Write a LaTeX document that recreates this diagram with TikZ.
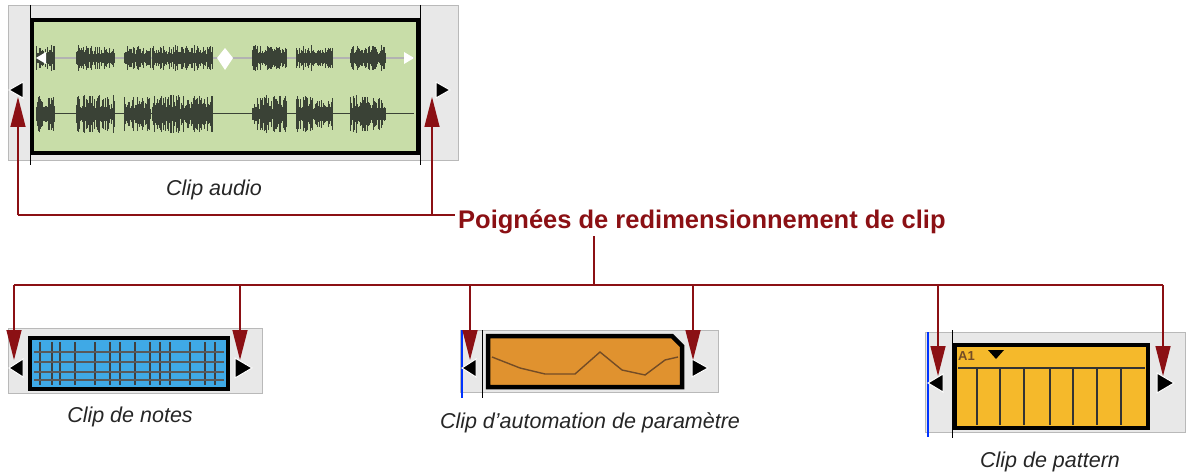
\documentclass[tikz,border=0pt]{standalone}
\usepackage{fontspec}
\setmainfont{Liberation Sans}
\usetikzlibrary{arrows.meta}
\definecolor{dred}{HTML}{8B1014}
\definecolor{wave}{HTML}{3A4236}
\definecolor{aud}{HTML}{C8DDA8}
\definecolor{nblue}{HTML}{3FA9E6}
\definecolor{oran}{HTML}{E0922F}
\definecolor{yell}{HTML}{F5B92B}
\tikzset{
 strip/.style={fill=gray!18,draw=gray!55,line width=0.8pt},
 clipbox/.style={draw=black,line width=4.5pt},
 conn/.style={draw=dred,line width=1.4pt},
 arr/.style={conn,-{Triangle[length=30pt,width=15pt]}},
 handle/.style={fill=black,draw=white,line width=1pt},
 lab/.style={font=\itshape\fontsize{21.5}{23}\selectfont,inner sep=0pt,text=black!85},
}
\begin{document}
\begin{tikzpicture}[x=1pt,y=-1pt]
\useasboundingbox (0,0) rectangle (1189,476);
\pgfmathsetseed{7}
% ---------- audio clip
\draw[strip] (8,5) rectangle (458,160);
\draw[black,line width=1pt] (30,5)--(30,165) (420,5)--(420,165);
\draw[clipbox,fill=aud] (32,20) rectangle (418,153);
\draw[gray!60,line width=1.5pt] (36,58)--(414,58);
\draw[wave,line width=1pt] (36,114)--(414,114);
\foreach \a/\b in {36/54,76/114,124/150,152/212,252/286,296/332,350/385}{
  \foreach \x in {\a,...,\b}{
    \pgfmathsetmacro{\h}{4+9*rnd}\pgfmathsetmacro{\k}{5+14*rnd}
    \fill[wave] (\x,58-\h) rectangle (\x+1.2,58+\h);
    \fill[wave] (\x,114-\k) rectangle (\x+1.2,114+\k);
  }
}
\fill[white] (36,58)--(46,52)--(46,64)--cycle (414,58)--(404,52)--(404,64)--cycle
  (225,48)--(233,58)--(225,70)--(217,58)--cycle;
\node[lab] (audio) at (214,190) {Clip audio};
\draw[handle] (9,90)--(23,82)--(23,98)--cycle;
\draw[handle] (450,90)--(436,82)--(436,98)--cycle;
\coordinate (aL) at (18,97); \coordinate (aR) at (432,97);
\coordinate (aLb) at (18,215); \coordinate (aRb) at (432,215);
\node[font=\bfseries\fontsize{25.5}{27}\selectfont,text=dred,anchor=west,inner sep=0pt] (title) at (458,222) {Poignées de redimensionnement de clip};
\draw[conn] (aLb)--(aRb)--(455,215);
\draw[arr] (aLb)--(aL);
\draw[arr] (aRb)--(aR);
% ---------- bus
\coordinate (bus) at (594,285);
\draw[conn] (594,236)--(bus);
\draw[conn] (14,285)--(1163,285);
% ---------- notes clip
\draw[strip] (8,328) rectangle (262,393);
\draw[clipbox,fill=nblue] (30,338) rectangle (228,389);
\foreach \x in {40,52,60,75,95,110,120,135,150,160,170,190,205,215}{\draw[black!75,line width=1.5pt] (\x,342)--(\x,385);}
\foreach \y in {352,362,372,380}{\draw[black!65,line width=1.2pt] (34,\y)--(224,\y);}
\node[lab] (notes) at (130,417) {Clip de notes};
\draw[handle] (9,368)--(23,359)--(23,377)--cycle;
\draw[handle] (252,368)--(235,358)--(235,378)--cycle;
\draw[arr] (14,285)--(14,360);
\draw[arr] (240,285)--(240,360);
% ---------- automation clip
\draw[strip] (460,330) rectangle (718,392);
\draw[blue!80!cyan,line width=1.5pt] (462,330)--(462,398);
\draw[black,line width=1pt] (482,330)--(482,398);
\draw[clipbox,fill=oran] (488,336)--(672,336)--(682,346)--(682,387)--(488,387)--cycle;
\draw[brown!60!black,line width=1.4pt] (492,357)--(520,368)--(545,374)--(575,374)--(600,352)--(622,370)--(645,375)--(665,360)--(678,357);
\node[lab] (auto) at (590,423) {Clip d'automation de paramètre};
\draw[handle] (462,368)--(476,359)--(476,377)--cycle;
\draw[handle] (708,368)--(692,359)--(692,377)--cycle;
\draw[arr] (470,285)--(470,360);
\draw[arr] (693,285)--(693,360);
% ---------- pattern clip
\draw[strip] (925,332) rectangle (1185,432);
\draw[blue!80!cyan,line width=2.5pt] (928,332)--(928,437);
\draw[black,line width=1pt] (952,330)--(952,438);
\draw[clipbox,fill=yell] (955,345) rectangle (1148,428);
\draw[black!80,line width=1.5pt] (958,368)--(1145,368);
\foreach \x in {977,1000,1024,1050,1073,1097,1121}{\draw[black!80,line width=2.5pt] (\x,368)--(\x,425);}
\node[font=\bfseries\fontsize{13}{14}\selectfont,text=brown!60!black,anchor=west,inner sep=0pt] (a1) at (958,356) {A1};
\fill[black] (988,350)--(1004,350)--(996,359)--cycle;
\node[lab] (pattern) at (1050,462) {Clip de pattern};
\draw[handle] (928,383)--(943,374)--(943,392)--cycle;
\draw[handle] (1174,383)--(1157,373)--(1157,393)--cycle;
\draw[arr] (938,285)--(938,376);
\draw[arr] (1163,285)--(1163,376);
\end{tikzpicture}
\end{document}
